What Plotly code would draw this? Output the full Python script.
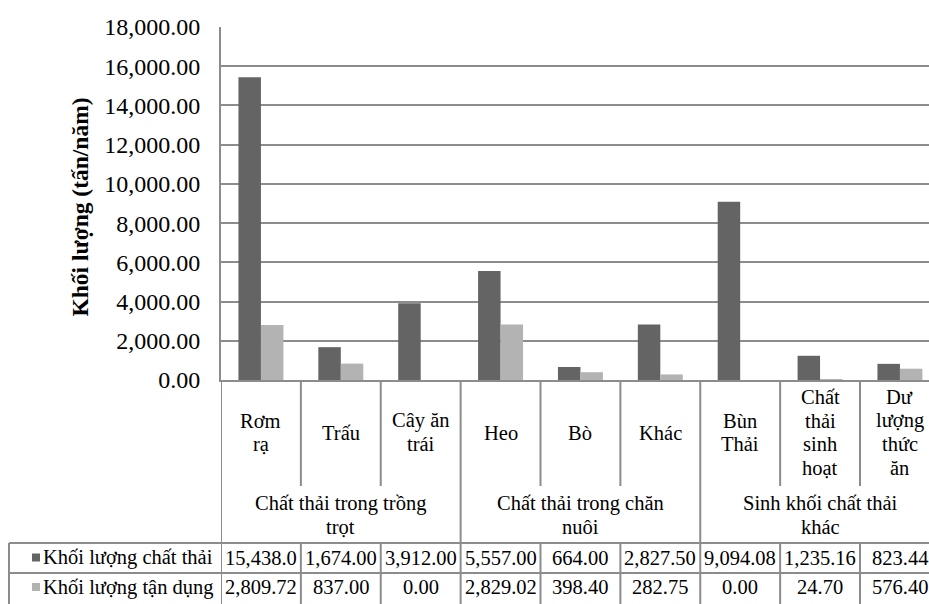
import plotly.graph_objects as go

# ---------------- data ----------------
categories = ["Rơm\nrạ", "Trấu", "Cây ăn\ntrái", "Heo", "Bò", "Khác",
              "Bùn\nThải", "Chất\nthải\nsinh\nhoạt", "Dư\nlượng\nthức\năn"]
groups = ["Chất thải trong trồng\ntrọt", "Chất thải trong chăn\nnuôi", "Sinh khối chất thải\nkhác"]
group_sizes = [3, 3, 3]
series_names = ["Khối lượng chất thải", "Khối lượng tận dụng"]
waste = [15438.00, 1674.00, 3912.00, 5557.00, 664.00, 2827.50, 9094.08, 1235.16, 823.44]
used = [2809.72, 837.00, 0.00, 2829.02, 398.40, 282.75, 0.00, 24.70, 576.40]
y_ticks = [0, 2000, 4000, 6000, 8000, 10000, 12000, 14000, 16000, 18000]
y_title = "Khối lượng (tấn/năm)"

# ---------------- style / layout ----------------
W, H = 929, 604
L, T, BOT = 221, 27, 380          # plot area pixel edges
PW, PH = W - L, BOT - T
CAT_W = 79.875                    # px per category
FONT = "Liberation Serif"
DARK, LIGHT = "#646464", "#b3b3b3"
LINE = "#8c8c8c"
TXT = "#000000"
TS = 20.5                         # table font size

def py(p):  # pixel y -> paper y
    return (BOT - p) / PH

def px(p):  # pixel x -> paper x
    return (p - L) / PW

x_idx = list(range(len(categories)))

fig = go.Figure()
fig.add_trace(go.Bar(x=x_idx, y=waste, name=series_names[0],
                     marker=dict(color=DARK, line=dict(width=0))))
fig.add_trace(go.Bar(x=x_idx, y=used, name=series_names[1],
                     marker=dict(color=LIGHT, line=dict(width=0))))

annotations = []
shapes = []

def add_multiline(text, x, yc, ls, xref="x", size=TS):
    lines = text.split("\n")
    n = len(lines)
    for k, ln in enumerate(lines):
        yy = yc + (k - (n - 1) / 2) * ls
        annotations.append(dict(x=x, y=py(yy), xref=xref, yref="paper", text=ln,
                                showarrow=False, xanchor="center", yanchor="middle",
                                font=dict(family=FONT, size=size, color=TXT)))

for i, c in enumerate(categories):
    add_multiline(c, i, 432.5, 23.5)

start = 0
group_bounds = [-0.5]
for g, n in zip(groups, group_sizes):
    center = start + (n - 1) / 2
    add_multiline(g, center, 515, 24)
    start += n
    group_bounds.append(start - 0.5)

def fmt(v):
    return f"{v:,.2f}"[:8]

for r, (vals, yc) in enumerate([(waste, 557.5), (used, 587)]):
    for i, v in enumerate(vals):
        annotations.append(dict(x=i, y=py(yc), xref="x", yref="paper", text=fmt(v),
                                showarrow=False, xanchor="center", yanchor="middle",
                                font=dict(family=FONT, size=TS, color=TXT)))
    annotations.append(dict(x=px(41), y=py(yc), xref="paper", yref="paper",
                            text=series_names[r], showarrow=False,
                            xanchor="left", yanchor="middle",
                            font=dict(family=FONT, size=TS, color=TXT)))
    col = DARK if r == 0 else LIGHT
    shapes.append(dict(type="rect", xref="paper", yref="paper",
                       x0=px(32), x1=px(40), y0=py(yc - 4), y1=py(yc + 4),
                       fillcolor=col, line=dict(width=0)))

annotations.append(dict(x=px(79), y=py(207.5), xref="paper", yref="paper", text=f"<b>{y_title}</b>",
                        textangle=-90, showarrow=False, xanchor="center", yanchor="middle",
                        font=dict(family=FONT, size=23.5, color=TXT)))

lw = 2
for i in range(len(categories)):
    b = i - 0.5
    if b in group_bounds:
        shapes.append(dict(type="line", xref="x", yref="paper", x0=b, x1=b,
                           y0=py(BOT), y1=py(H + 2), line=dict(color=LINE, width=lw)))
    else:
        shapes.append(dict(type="line", xref="x", yref="paper", x0=b, x1=b,
                           y0=py(BOT), y1=py(486), line=dict(color=LINE, width=lw)))
        shapes.append(dict(type="line", xref="x", yref="paper", x0=b, x1=b,
                           y0=py(543), y1=py(H + 2), line=dict(color=LINE, width=lw)))
for yy in (543, 573):
    shapes.append(dict(type="line", xref="paper", yref="paper", x0=px(9), x1=1.0,
                       y0=py(yy), y1=py(yy), line=dict(color=LINE, width=lw)))
shapes.append(dict(type="line", xref="paper", yref="paper", x0=px(9), x1=px(9),
                   y0=py(543), y1=py(H + 2), line=dict(color=LINE, width=lw)))

fig.update_layout(
    width=W, height=H,
    margin=dict(l=L, r=0, t=T, b=H - BOT, pad=0),
    paper_bgcolor="white", plot_bgcolor="white",
    barmode="group", bargap=0.437, bargroupgap=0,
    showlegend=False,
    font=dict(family=FONT, color=TXT),
    annotations=annotations, shapes=shapes,
    xaxis=dict(range=[-0.5, -0.5 + PW / CAT_W], showticklabels=False, ticks="",
               showgrid=False, zeroline=False, showline=True, linecolor=LINE, linewidth=lw,
               fixedrange=True),
    yaxis=dict(range=[0, 18000], tickvals=y_ticks, tickformat=",.2f", ticks="",
               showgrid=True, gridcolor=LINE, gridwidth=lw, zeroline=False,
               showline=True, linecolor=LINE, linewidth=lw,
               tickfont=dict(family=FONT, size=24, color=TXT), ticklabelstandoff=14,
               fixedrange=True),
)

fig.write_html("out.html", config={"displayModeBar": False},
               post_script="document.body.style.margin='0';document.body.style.overflow='hidden';")
